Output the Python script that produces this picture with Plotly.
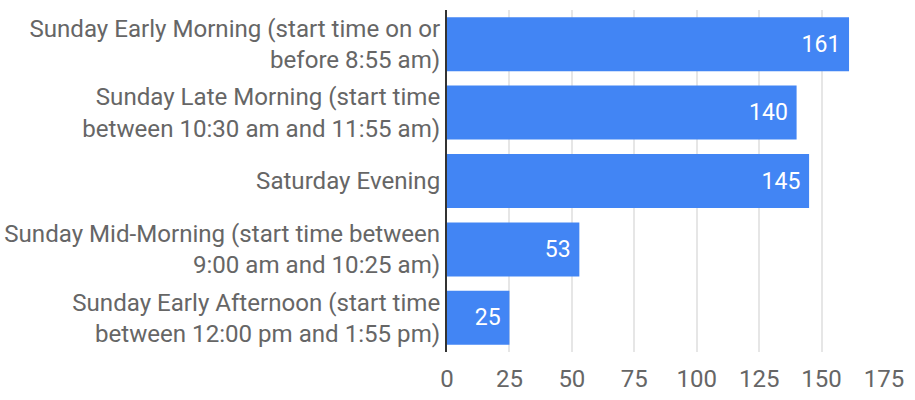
import plotly.graph_objects as go

categories = [
    "Sunday Early Morning (start time on or<br>before 8:55 am)",
    "Sunday Late Morning (start time<br>between 10:30 am and 11:55 am)",
    "Saturday Evening",
    "Sunday Mid-Morning (start time between<br>9:00 am and 10:25 am)",
    "Sunday Early Afternoon (start time<br>between 12:00 pm and 1:55 pm)",
]
values = [161, 140, 145, 53, 25]
tick_vals = [0, 25, 50, 75, 100, 125, 150, 175]

fig = go.Figure(go.Bar(
    x=values, y=categories, orientation="h",
    marker=dict(color="#4285F4", line=dict(width=0)),
    texttemplate="%{x}\u00a0",
    textposition="inside", insidetextanchor="end",
    textfont=dict(family="Roboto", size=23, color="#ffffff"),
    constraintext="none", cliponaxis=False,
    hoverinfo="skip",
))

fig.update_layout(
    width=915, height=400,
    margin=dict(l=447, r=31, t=10, b=48, autoexpand=False),
    plot_bgcolor="white", paper_bgcolor="white",
    bargap=0.21,
    font=dict(family="Roboto", size=24.1, color="#666666"),
    showlegend=False,
    xaxis=dict(range=[0, 175], tickvals=tick_vals, showgrid=True,
               gridcolor="#e6e6e6", gridwidth=2, zeroline=False,
               ticks="", ticklabelstandoff=10, automargin=False,
               tickfont=dict(family="Roboto", size=24, color="#666666")),
    yaxis=dict(autorange="reversed", showline=True, linecolor="#333333",
               linewidth=2, ticks="", ticklabelstandoff=0, automargin=False,
               tickfont=dict(family="Roboto", size=24.1, color="#666666")),
)

fig.write_html("out.html", config={"displayModeBar": False},
               post_script="document.body.style.margin='0';")
